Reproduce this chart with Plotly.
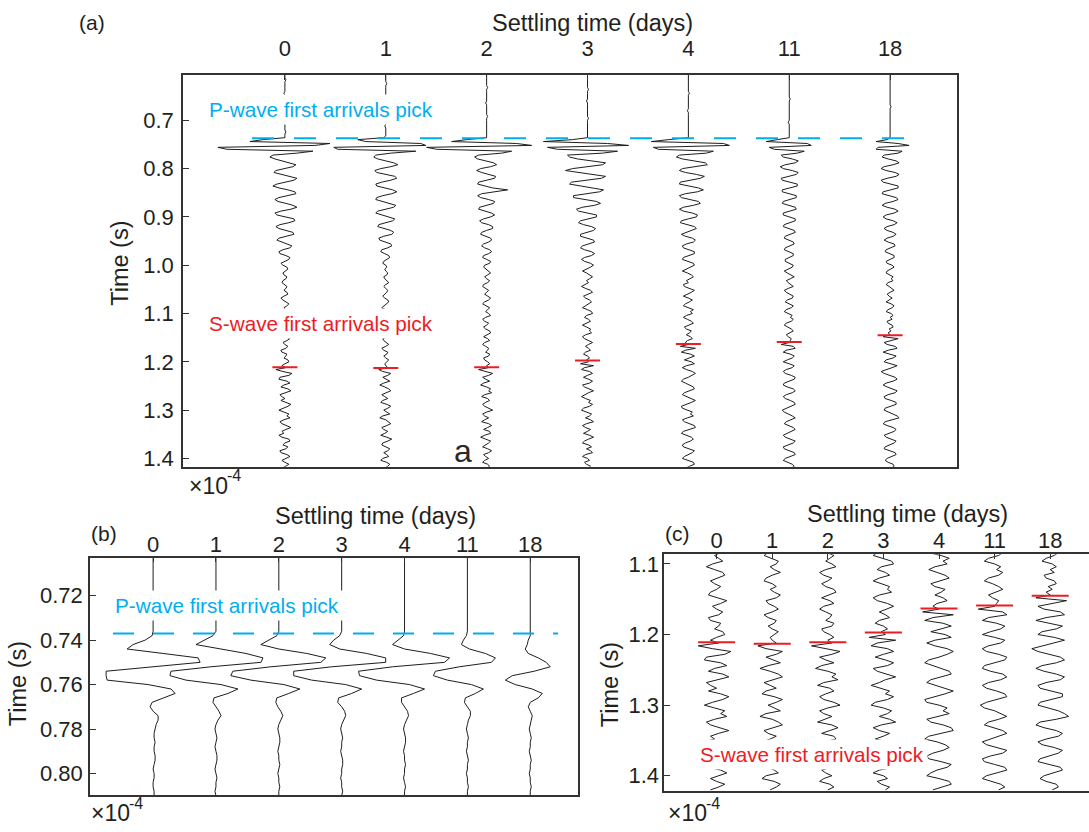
import plotly.graph_objects as go

# ---------------- data ----------------
days = ["0", "1", "2", "3", "4", "11", "18"]
p_pick_time = 0.737
s_pick_times = [1.211, 1.213, 1.211, 1.197, 1.163, 1.159, 1.145]

# full records (panels a and c): one sample every 4 ms starting at 0.600 s
full_t0 = 0.600
full_dt = 0.004
full_day0 = [
    0, 0, 0, 0, 1, 0, 0, 0, 0, 0, 0, -1, 0, 0, 0, 0, 0, 1, 0, 0, 0, 0, 0, 0, 0, -1, 0, 0, 0, 0, 0, 1, 0, 0,
    0, -22, -35, 45, 30, -67, -58, 28, 12, -12, -15,
    -10, -3, 6, 11, 8, -2, -9, -11, -4, 5, 12, 9, 0, -8, -12, -6, 3, 10, 11, 3,
    -6, -10, -7, 1, 8, 12, 6, -4, -10, -8, 1, 9, 10, 4, -5, -9, -6, 2, 8, 9,
    2, -6, -8, -3, 4, 7, 5, -2, -6, -5, 1, 5, 4, -1, -4, -2,
    2, 3, 0, -2, -1, 2, 1, -2, -3, 0, 2, 1, -1, 2, 3, -1, -4, -2, 1, 4,
    2, -1, 1, 3, -2, -5, -1, 3, 4, 0, -3, -1, 2, 0, -3, -4, 1, 5, 2, -2,
    0, 3, 1, -4, -3, 2, 1, -1, 3, 4, 0, -3,
    1, -9, -2, 7, 4, -5, -6, 2, 5, -1, -4, 3, 6, 1, -5, -3, 0, -4, 2, 6,
    3, -2, -6, -1, 4, 2, 5, -1, -5, -3, 2, 6, 1, -3, -1, -6, -3, 4, 5, 0,
    -2, 3, 1, -5, -4, 2, 5, 1, -3, 0, 4, 1, -3,
]
full_day1 = [
    0, 0, 0, 0, 0, 0, 1, 0, 0, 0, 0, 0, 0, -1, 0, 0, 0, 0, 0, 0, 1, 0, 0, 0, 0, 0, 0, 0, -1, 0, 0, 0, 0, 0,
    -2, -28, -20, 35, 40, -52, -48, 30, 5, -10, -12,
    -8, 0, 8, 12, 5, -5, -11, -9, 0, 9, 11, 5, -4, -10, -9, -1, 7, 11, 6, -3,
    -9, -10, -3, 5, 10, 8, -1, -8, -10, -4, 4, 9, 7, 0, -7, -8, -2, 5, 8, 6,
    -2, -7, -6, 0, 5, 6, 2, -4, -5, -1, 3, 4, 1, -2, -3, 0,
    1, -1, 0, 2, 1, -2, -1, 1, 3, 0, -2, 0, 2, 1, -1, -3, -1, 2, 3, 1,
    -2, -4, 0, 3, 2, -1, 1, 4, 0, -3, -4, 0, 2, -1, 1, 4, 2, -3, -2, 1,
    3, 0, -4, -2, 2, 1, -2, 0, 3, 1, -1, 0,
    2, -7, -3, 5, 2, -3, 1, 4, -2, -6, -1, 3, 5, 0, -4, -1, 2, -3, -5, 1,
    5, 2, -2, 1, 4, -3, -6, 0, 3, 5, 1, -4, -2, 2, -1, -5, 1, 6, 2, -3,
    -4, 0, 4, 2, -2, 1, 3, -3, -5, 1, 4, 2, -1,
]
full_day2 = [
    0, 0, 0, 0, 0, 0, 0, 0, 1, 0, 0, 0, 0, 0, 0, 0, -1, 0, 0, 0, 0, 0, 0, 1, 0, 0, 0, 0, 0, 0, 0, 0, 0, 0,
    0, -20, -35, 30, 45, -60, -50, 25, 15, -8, -12,
    -9, -2, 7, 10, 4, -6, -10, -5, 3, 9, 8, 0, -8, -9, -2, 6, 21, 8, -5, -9,
    -6, 2, 8, 7, -1, -7, -8, -2, 5, 8, 4, -3, -7, -5, 2, 6, 6, 0, -5, -6,
    -1, 4, 5, 2, -3, -5, -2, 3, 5, 2, -3, -4, 0, 4, 3, -2,
    -3, -1, 2, 4, 1, -2, 0, 3, 1, -3, -4, -1, 2, 0, -2, 1, 4, 2, -2, -4,
    0, 3, 1, -1, 2, 4, -1, -4, -2, 2, 0, -3, -1, 3, 4, 0, -3, 1, 3, -2,
    -4, -1, 2, 1, -1, 3, 2, -3, -2, 1, 3, 0,
    2, -8, 0, 6, 2, -4, -1, 3, -3, -6, 0, 4, 2, 5, -2, -5, 1, 3, -1, -4,
    -2, 3, 6, 0, -4, -2, 2, -2, -5, 2, 5, 1, -3, 3, 4, -2, -6, -1, 4, 2,
    -1, -4, 1, 5, 2, -3, -1, 2, -2, -4, 1, 3, 0,
]
full_day3 = [
    0, 0, 0, 0, 0, 0, 0, 0, 0, 1, 0, 0, 0, 0, 0, -1, 0, 0, 0, 0, 0, 0, 0, 0, 1, 0, 0, 0, 0, 0, 0, 0, 0, 0,
    0, -15, -44, 20, 41, -40, -30, 30, 15, -20, -18,
    -10, 5, 18, 15, 0, -15, -22, -10, 6, 18, 14, -2, -16, -18, -6, 8, 16, 12, -3, -14,
    -14, -3, 9, 13, 7, -5, -11, -9, 1, 9, 9, 2, -7, -9, -4, 4, 8, 6, -2, -7,
    -7, -1, 6, 7, 2, -5, -7, -3, 4, 7, 4, -3, -6, -3, 3, 6,
    3, -2, -5, -1, 2, 5, 2, -1, 1, -3, -6, -2, 3, 5, 0, -4, -2, 2, 4, 1,
    -3, -5, 0, 4, 5, -1, -3, 1, 3, -2, -5, -1, 3, 2, 4, -2, -5, -3, 2, 5,
    1, -2, 1, 3, -2, -4, 0, 2, -1, 1, -7, 6,
    -3, -6, 2, 5, 0, -4, 1, 5, 2, -5, -3, 2, 6, 1, -2, -6, -2, 3, 1, 5,
    2, -4, -6, 0, 4, 2, -2, 3, 6, -1, -5, -2, 3, 0, -4, 2, 6, 1, -3, -5,
    1, 4, -1, 3, 5, -2, -5, 0, 2, -3, -1, 3, 1,
]
full_day4 = [
    0, 0, 0, 0, 0, 0, 0, 0, 0, 0, 0, 1, 0, 0, 0, 0, 0, 0, 0, 0, -1, 0, 0, 0, 0, 0, 0, 0, 0, 0, 0, 0, 0, 0,
    0, -20, -37, 35, 41, -35, -30, 25, 18, -9, -12,
    -6, 6, 17, 19, 8, -6, -9, -3, 8, 16, 12, 0, -8, -9, 0, 10, 15, 9, -3, -9,
    -7, 2, 10, 12, 5, -5, -9, -5, 4, 9, 8, 0, -7, -8, -1, 6, 8, 3, -4, -7,
    -3, 4, 7, 5, -2, -6, -5, 1, 6, 6, 0, -5, -6, -1, 5, 6,
    2, -3, -6, -1, 3, 5, 1, -2, 0, -5, -4, 2, 6, 3, -2, -5, 0, 4, 1, -3,
    -5, 1, 5, 2, 4, -2, -5, -1, 3, 5, 0, -4, -2, 3, 1, -2, 2, 4, -1, -3,
    0, -8, 7, -3, -7, 2, 6, 1, -4, 3, 6, -2,
    -6, -2, 4, 7, 4, 0, -5, -7, -3, 2, 5, 6, 1, -4, -6, -2, 3, 7, 3, -2,
    -7, -6, 0, 4, 2, 5, -1, -6, -4, 2, 6, 7, 1, -5, -7, -1, 3, 5, 2, -3,
    -6, -5, 1, 6, 4, -1, -4, -6, 0, 5, 6, 2, -3,
]
full_day11 = [
    0, 0, 0, 0, 0, 0, 0, 0, 0, 0, 0, 0, 0, 0, 1, 0, 0, 0, 0, 0, 0, 0, 0, 0, 0, 0, -1, 0, 0, 0, 0, 0, 0, 0,
    0, -12, -23, 18, 22, -20, -15, 15, 8, -8, -6,
    3, 9, 6, -4, -9, -6, 3, 9, 7, -2, -8, -7, 1, 8, 8, 0, -7, -7, 1, 7,
    7, 0, -6, -7, 0, 6, 7, 1, -6, -6, 0, 6, 6, 0, -5, -6, -1, 5, 6, 1,
    -4, -5, -1, 4, 5, 1, -4, -5, 0, 4, 4, 0, -4, -4, 1, 4,
    3, -1, -5, -2, 2, 5, 1, -3, -1, 2, 4, -1, -5, -3, 1, 4, 3, -2, -4, 1,
    4, 2, -3, -5, 0, 3, 1, 4, 2, -3, -5, -1, 2, 4, 0, -3, -1, 2, 1, 0,
    -8, 4, 6, -3, -6, 1, 5, 3, -2, -6, 0, 5,
    3, -3, -6, -4, 2, 6, 5, 0, -5, -6, -2, 4, 6, 3, -3, -6, -4, 1, 5, 6,
    1, -4, -7, -5, 0, 3, 6, 2, -3, -5, -1, 4, 6, 2, -2, -6, -4, 1, 6, 4,
    -2, -6, -5, 0, 5, 6, 1, -4, -6, -2, 3, 5, 2,
]
full_day18 = [
    0, 0, 0, 0, 0, 0, 0, 0, 0, 0, 0, 0, 0, 0, 0, 0, 0, 0, 1, 0, 0, 0, 0, 0, 0, 0, 0, 0, 0, 0, 0, 0, 0, 0,
    0, -3, -14, 8, 19, -12, -14, 12, 8, -6, -8,
    -2, 6, 9, 3, -6, -9, -4, 5, 9, 6, -3, -9, -7, 2, 8, 8, 0, -7, -8, -1,
    6, 8, 3, -5, -8, -3, 5, 8, 4, -4, -7, -4, 3, 7, 4, -3, -6, -3, 3, 6,
    3, -3, -6, -2, 4, 5, 1, -4, -5, 0, 4, 4, -1, -4, -3, 2,
    4, 1, -3, -4, 0, 3, 1, 3, -2, -4, -1, 2, 4, 0, -3, -1, 2, -1, -4, 1,
    4, 2, -2, -4, 1, 3, 0, 2, -3, -2, 2, 3, -1, 1, -2, 0, -7, 8, 1, -6,
    -3, 5, 7, -2, -7, -1, 6, 3, -4, -6, 2, 7,
    2, -4, -9, -6, 0, 5, 7, 3, -4, -7, -3, 3, 7, 5, -2, -6, -5, 1, 6, 6,
    0, -5, -6, -1, 4, 7, 9, 3, -5, -7, -3, 3, 6, 4, -2, -6, -4, 2, 6, 4,
    -1, -5, -6, 0, 5, 6, 2, -3, -5, -2, 3, 4, 1,
]
full_traces = [full_day0, full_day1, full_day2, full_day3, full_day4, full_day11, full_day18]

# P-wave window (panel b): one sample every 2 ms starting at 0.700 s
pwin_t0 = 0.700
pwin_dt = 0.002
pwin_day0 = [0, 0, 0, 0, 0, 0, 0, 0, 0, 0, 0, 0, 0, 0, 0, 0, 0, 0, 0,
             -1, -8, -20, -26, 10, 45, 47, 0, -47, -47, -46, -5, 18, 22, 10, -1, -3, 0, 5, 5,
             3, 2, 1, 1, 2, 1, 1, 2, 2, 1, 0, 1, 1, 0, 0, 1, 1]
pwin_day1 = [0, 0, 0, 0, 0, 0, 0, 0, 0, 0, 0, 0, 0, 0, 0, 0, 0, 0, 0,
             -3, -12, -20, 5, 30, 47, 45, -5, -45, -46, -30, 5, 22, 12, -2, -3, 0, 3, 5, 2,
             0, -1, 0, 1, 0, -1, 0, 1, 1, 0, -1, 0, 1, 0, 0, -1, 0]
pwin_day2 = [0, 0, 0, 0, 0, 0, 0, 0, 0, 0, 0, 0, 0, 0, 0, 0, 0, 0, 0,
             -2, -10, -18, 0, 28, 47, 42, -8, -46, -48, -28, 5, 21, 10, -2, -3, -1, 2, 4, 2,
             0, -1, 0, 1, 1, 0, -1, 0, 0, 1, 0, -1, 0, 0, 1, 0, 0]
pwin_day3 = [0, 0, 0, 0, 0, 0, 0, 0, 0, 0, 0, 0, 0, 0, 0, 0, 0, 0, 0,
             -2, -8, -12, -2, 25, 44, 44, -10, -48, -48, -30, 4, 20, 10, -3, -4, 0, 3, 4, 2,
             0, -1, 0, 1, 0, 0, -1, 0, 1, 1, 0, 0, -1, 0, 0, 1, 0]
pwin_day4 = [0, 0, 0, 0, 0, 0, 0, 0, 0, 0, 0, 0, 0, 0, 0, 0, 0, 0, 0,
             -1, -7, -12, 0, 26, 45, 40, -12, -46, -45, -28, 5, 20, 9, -3, -3, 0, 3, 4, 2,
             0, -1, 0, 1, 1, 0, -1, 0, 0, 1, 0, 0, -1, 0, 1, 0, 0]
pwin_day11 = [0, 0, 0, 0, 0, 0, 0, 0, 0, 0, 0, 0, 0, 0, 0, 0, 0, 0, 0,
              -1, -4, -6, 2, 18, 28, 24, -8, -32, -34, -20, 4, 16, 8, -2, -3, 0, 3, 3, 1,
              0, -1, 0, 1, 0, 0, -1, 0, 1, 0, 0, -1, 0, 0, 1, 0, 0]
pwin_day18 = [0, 0, 0, 0, 0, 0, 0, 0, 0, 0, 0, 0, 0, 0, 0, 0, 0, 0, 0,
              0, -2, -3, -5, -2, 8, 16, 20, 4, -18, -25, -15, 2, 12, 8, 0, -2, 0, 2, 1,
              0, -1, 0, 1, 0, 0, -1, 0, 1, 0, 0, -1, 0, 0, 1, 0, 0]
pwin_traces = [pwin_day0, pwin_day1, pwin_day2, pwin_day3, pwin_day4, pwin_day11, pwin_day18]

# ---------------- layout constants ----------------
W, H = 1089, 832
FONT = "Liberation Sans, Arial, Helvetica, sans-serif"
INK = "#231f20"
AXC = "#333333"
CYAN = "#00aeef"
RED = "#ed1c24"
WIG = "#1e1e1e"

# panel geometry in page pixels: box (left, top, right, bottom), first trace x, trace spacing
PANELS = {
    "a": dict(box=(183, 72.7, 957, 467.7), x0=284.9, dx=100.87, t_top=0.60639, t_bot=1.41724,
              gain=1.0 / 100.87, ticks=[0.7, 0.8, 0.9, 1.0, 1.1, 1.2, 1.3, 1.4], fmt="{:.1f}",
              xstand=8, ystand=3),
    "b": dict(box=(90, 559.3, 577.7, 799), x0=153.1, dx=62.86, t_top=0.70286, t_bot=0.80982,
              gain=1.0 / 62.86, ticks=[0.72, 0.74, 0.76, 0.78, 0.80], fmt="{:.2f}",
              xstand=-5, ystand=1),
    "c": dict(box=(664.3, 556, 1089, 795), x0=716.6, dx=55.6, t_top=1.08638, t_bot=1.42205,
              gain=3.7 / 100.87, ticks=[1.1, 1.2, 1.3, 1.4], fmt="{:.1f}",
              xstand=-4, ystand=-1),
}
AXIS_IDS = {"a": ("x", "y"), "b": ("x2", "y2"), "c": ("x3", "y3")}


def px(xp):
    return xp / W


def py(yp):
    return 1 - yp / H


fig = go.Figure()


def wiggle(panel, series, t0, dt, tmin=None):
    p = PANELS[panel]
    xa, ya = AXIS_IDS[panel]
    for i, amp in enumerate(series):
        ts, xs = [], []
        for k, a in enumerate(amp):
            t = t0 + k * dt
            if tmin is not None and t < tmin:
                continue
            ts.append(t)
            xs.append(i + a * p["gain"])
        fig.add_trace(go.Scatter(x=xs, y=ts, mode="lines", xaxis=xa, yaxis=ya,
                                 line=dict(color=WIG, width=1), hoverinfo="skip", showlegend=False))


wiggle("a", full_traces, full_t0, full_dt)
wiggle("b", pwin_traces, pwin_t0, pwin_dt)
wiggle("c", full_traces, full_t0, full_dt, tmin=1.07)


# P-wave pick lines (dashed)
def p_line(panel, x_from_px, x_to_px, dash):
    p = PANELS[panel]
    xa, ya = AXIS_IDS[panel]
    x1 = (x_from_px - p["x0"]) / p["dx"]
    x2 = (x_to_px - p["x0"]) / p["dx"]
    fig.add_trace(go.Scatter(x=[x1, x2], y=[p_pick_time, p_pick_time], mode="lines", xaxis=xa, yaxis=ya,
                             line=dict(color=CYAN, width=2, dash=dash), hoverinfo="skip", showlegend=False))


p_line("a", 252, 920, "22px,20px")
p_line("b", 113, 558, "21px,19px")


# S-wave picks (short red ticks)
def s_picks(panel, half_px):
    p = PANELS[panel]
    xa, ya = AXIS_IDS[panel]
    hw = half_px / p["dx"]
    xs, ys = [], []
    for i, t in enumerate(s_pick_times):
        xs += [i - hw, i + hw, None]
        ys += [t, t, None]
    fig.add_trace(go.Scatter(x=xs, y=ys, mode="lines", xaxis=xa, yaxis=ya,
                             line=dict(color=RED, width=2), hoverinfo="skip", showlegend=False))


s_picks("a", 12.5)
s_picks("c", 18.5)

# axes
layout = dict(width=W, height=H, margin=dict(l=0, r=0, t=0, b=0),
              paper_bgcolor="white", plot_bgcolor="white", showlegend=False,
              font=dict(family=FONT, color=INK, size=22))
for name, p in PANELS.items():
    l, t, r, b = p["box"]
    xa, ya = AXIS_IDS[name]
    xkey = "xaxis" if xa == "x" else "xaxis" + xa[1:]
    ykey = "yaxis" if ya == "y" else "yaxis" + ya[1:]
    layout[xkey] = dict(domain=[px(l), min(px(r), 1.0)],
                        range=[(l - p["x0"]) / p["dx"], (r - p["x0"]) / p["dx"]],
                        anchor=ya, side="top", tickmode="array", tickvals=list(range(len(days))),
                        ticktext=days, ticks="inside", ticklen=5, tickwidth=1.3, tickcolor=AXC,
                        showline=True, linecolor=AXC, linewidth=1.6, mirror=True,
                        showgrid=False, zeroline=False, ticklabelstandoff=p["xstand"],
                        tickfont=dict(family=FONT, size=22, color=INK), fixedrange=True)
    layout[ykey] = dict(domain=[py(b), py(t)], range=[p["t_bot"], p["t_top"]], anchor=xa,
                        tickmode="array", tickvals=p["ticks"], ticktext=[p["fmt"].format(v) for v in p["ticks"]],
                        ticks="inside", ticklen=6, tickwidth=1.3, tickcolor=AXC,
                        showline=True, linecolor=AXC, linewidth=1.6, mirror=(name != "c"),
                        showgrid=False, zeroline=False, ticklabelstandoff=p["ystand"],
                        tickfont=dict(family=FONT, size=22, color=INK), fixedrange=True)
fig.update_layout(**layout)


def note(text, x, y, size, color=INK, xanchor="center", yanchor="middle", angle=0, **kw):
    fig.add_annotation(text=text, x=px(x), y=py(y), xref="paper", yref="paper", showarrow=False,
                       xanchor=xanchor, yanchor=yanchor, textangle=angle,
                       font=dict(family=FONT, size=size, color=color), **kw)


# panel letters
note("(a)", 92.5, 20, 21)
note("(b)", 104.5, 535, 21)
note("(c)", 677.5, 535, 21)
# axis titles
note("Settling time (days)", 592, 20, 23.5)
note("Settling time (days)", 376, 517, 23.5)
note("Settling time (days)", 907, 515, 23.5)
note("Time (s)", 120, 263, 23.5, angle=-90)
note("Time (s)", 18, 687, 23.5, angle=-90)
note("Time (s)", 610, 688, 23.5, angle=-90)
# amplitude multipliers (x10^-4)
for (mx, my) in [(187, 487), (89, 817), (666, 817)]:
    note("×10", mx, my, 23, xanchor="left")
    note("-4", mx + 38, my - 10, 16, xanchor="left")
# pick labels (white boxes mask the traces behind them)
note("P-wave first arrivals pick", 205, 107.7, 20.7, color=CYAN, xanchor="left",
     bgcolor="white", borderpad=3)
note("S-wave first arrivals pick", 205, 323, 20.7, color=RED, xanchor="left",
     bgcolor="white", borderpad=3)
note("P-wave first arrivals pick", 111, 607.5, 20.7, color=CYAN, xanchor="left",
     bgcolor="white", borderpad=3, width=236, align="left")
note("S-wave first arrivals pick", 696, 758, 20.7, color=RED, xanchor="left",
     bgcolor="white", borderpad=3)
# stray letter inside panel (a)
note("a", 463, 452, 32, color="#2a2a2a")

fig.write_html("out.html", config={"displayModeBar": False},
               post_script="document.body.style.margin='0px';document.documentElement.style.overflow='hidden';")
